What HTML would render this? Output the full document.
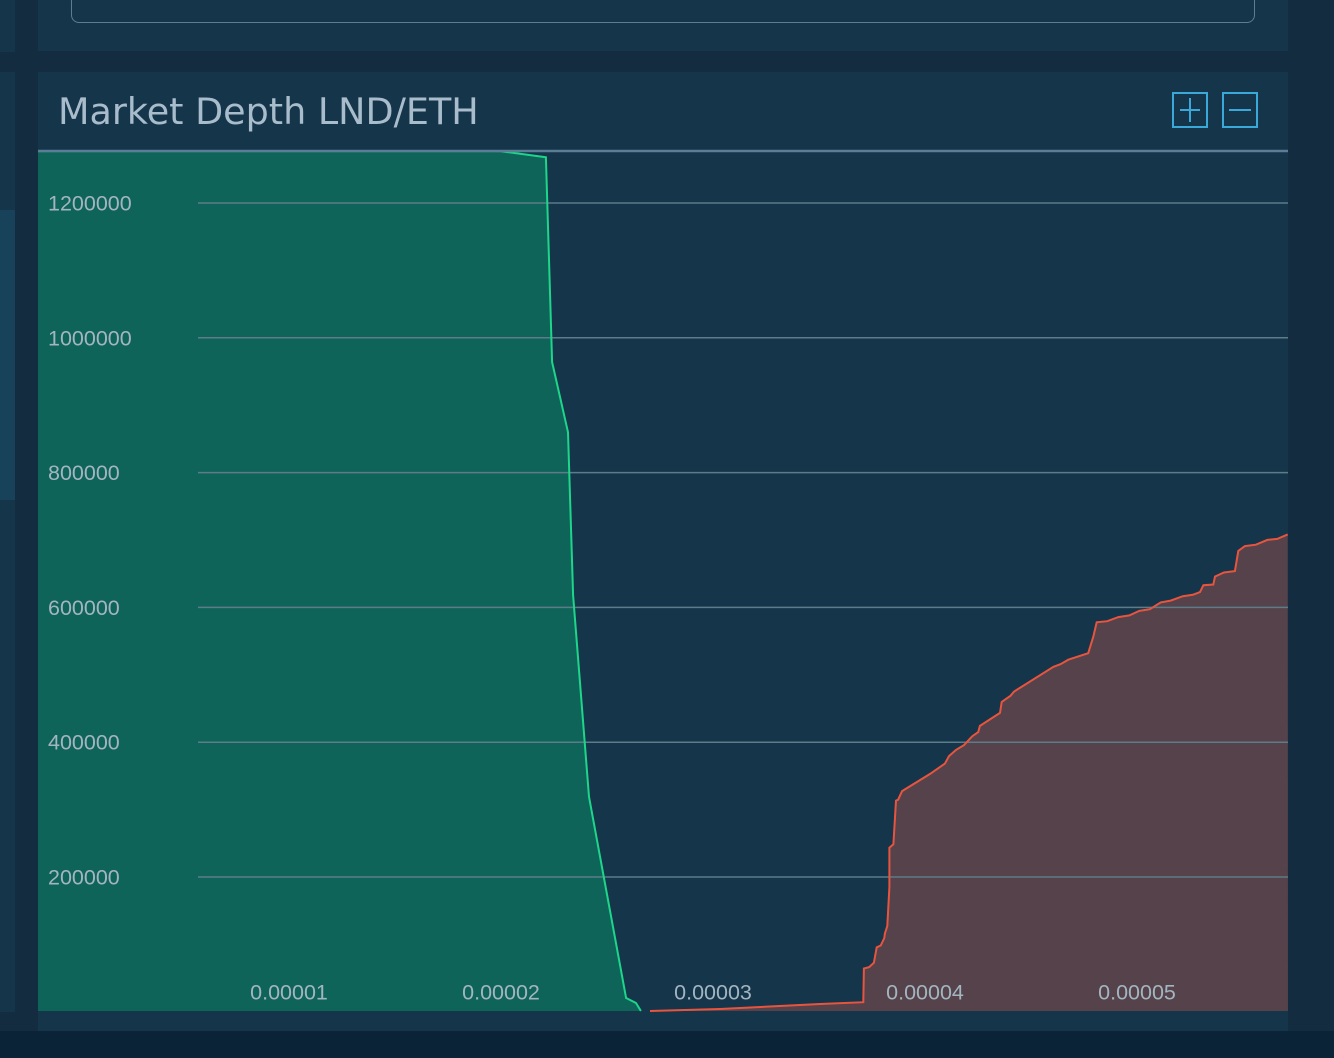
<!DOCTYPE html>
<html><head><meta charset="utf-8"><style>
body{margin:0;width:1334px;height:1058px;background:#132c3f;position:relative;overflow:hidden;font-family:"Liberation Sans",sans-serif}
div{position:absolute}
</style></head><body>
<div style="left:0;top:0;width:15px;height:52px;background:#15354a"></div>
<div style="left:0;top:72px;width:15px;height:940px;background:#15354a"></div>
<div style="left:0;top:210px;width:15px;height:290px;background:#17425a"></div>
<div style="left:38px;top:0;width:1250px;height:51px;background:#15354a">
  <div style="left:33px;top:-10px;width:1182px;height:31px;border:1.5px solid #5b7d96;border-radius:8px"></div>
</div>
<div style="left:38px;top:72px;width:1250px;height:959px;background:#15354a"></div>
<div style="left:0;top:1031px;width:1334px;height:27px;background:#0b2336"></div>
<div style="left:58px;top:90px;font-family:'DejaVu Sans',sans-serif;font-size:36.5px;color:#a9bccb">Market Depth LND/ETH</div>
<svg style="position:absolute;left:1172px;top:92px" width="36" height="36"><rect x="1" y="1" width="34" height="34" fill="none" stroke="#3aa8d8" stroke-width="2"/><path d="M8 18H28M18 6V30" stroke="#3aa8d8" stroke-width="2"/></svg>
<svg style="position:absolute;left:1222px;top:92px" width="36" height="36"><rect x="1" y="1" width="34" height="34" fill="none" stroke="#3aa8d8" stroke-width="2"/><path d="M7 18H29" stroke="#3aa8d8" stroke-width="2"/></svg>
<svg id="chart" style="position:absolute;left:0;top:0" width="1334" height="1058"></svg>
<script>
const bidPrices=[-0.0000019,0.00001995,0.00002212,0.00002241,0.00002316,0.0000234,0.00002415,0.0000259,0.00002637,0.0000266];
const bidVolumes=[1277000,1277000,1268000,964000,860000,618000,319000,20500,13000,0];
const askPrices=[0.00002703,0.00003033,0.00003505,0.00003709,0.00003712,0.00003737,0.00003759,0.00003772,0.00003791,0.00003808,0.00003811,0.00003822,0.00003832,0.00003832,0.00003851,0.00003863,0.00003873,0.00003892,0.00004024,0.00004094,0.00004113,0.00004146,0.00004184,0.00004223,0.00004251,0.00004259,0.00004354,0.00004362,0.00004404,0.0000442,0.00004605,0.0000464,0.00004676,0.0000477,0.00004794,0.0000481,0.0000486,0.00004912,0.00004964,0.00005011,0.00005061,0.00005112,0.00005159,0.00005216,0.00005263,0.00005297,0.00005313,0.0000536,0.00005368,0.0000541,0.00005462,0.00005478,0.00005509,0.00005561,0.00005615,0.00005662,0.00005711];
const askVolumes=[1200,4200,11600,14200,64200,66300,72800,95700,98400,109500,116200,127300,184900,243500,248500,313200,314700,327500,353000,368200,379400,388600,395700,408900,415000,424200,443500,459800,469000,475100,511700,515900,522400,532100,556500,577900,579500,585600,588100,594800,597300,607400,610100,616600,618700,622700,632900,634000,645700,651800,653900,683800,690900,693000,700200,701600,708300];
const yTicks=[200000,400000,600000,800000,1000000,1200000];
const xTicks=[0.00001,0.00002,0.00003,0.00004,0.00005];
const xTickLabels=["0.00001","0.00002","0.00003","0.00004","0.00005"];
</script>
<script>
const NS="http://www.w3.org/2000/svg";
const svg=document.getElementById('chart');
const L=38,R=1288,T=151,B=1011;
const X=p=>77+p/0.00001*212;
const Y=v=>1011.8-v/1e6*674;
function mk(tag,attrs){const e=document.createElementNS(NS,tag);for(const k in attrs)e.setAttribute(k,attrs[k]);svg.appendChild(e);return e;}
const cx=v=>Math.min(R,Math.max(L,v)), cy=v=>Math.min(B,Math.max(T,v));
let bp=bidPrices.map((p,i)=>cx(X(p)).toFixed(1)+','+cy(Y(bidVolumes[i])).toFixed(1));
let bid=mk('polygon',{points:bp.join(' ')+' '+L+','+B,fill:'#0f6459'});


let ap=askPrices.map((p,i)=>cx(X(p)).toFixed(1)+','+cy(Y(askVolumes[i])).toFixed(1));
let ask=mk('polygon',{points:ap.join(' ')+' '+R+','+B+' '+cx(X(askPrices[0])).toFixed(1)+','+B,fill:'#55424a'});


yTicks.forEach(v=>{
  const g=mk('line',{x1:198,x2:R,y1:Y(v),y2:Y(v),stroke:'#5d7b88','stroke-width':1.5});
  
  
  const t=mk('text',{x:48,y:Y(v)+7.5,fill:'#a3b5c0','font-size':21.5,'font-family':'Liberation Sans, sans-serif'});
  t.textContent=v;
  
  
});
let bl=mk('polyline',{points:bp.join(' '),fill:'none',stroke:'#1ed68a','stroke-width':2});


let al=mk('polyline',{points:ap.join(' '),fill:'none',stroke:'#e8553f','stroke-width':2});


const topBorder=mk('line',{x1:L,x2:R,y1:T,y2:T,stroke:'#5b7d96','stroke-width':2.5});


xTicks.forEach((p,i)=>{
  const t=mk('text',{x:X(p),y:999.5,fill:'#a3b5c0','font-size':21.5,'text-anchor':'middle','font-family':'Liberation Sans, sans-serif'});
  t.textContent=xTickLabels[i];
  
  
});
</script>
</body></html>
